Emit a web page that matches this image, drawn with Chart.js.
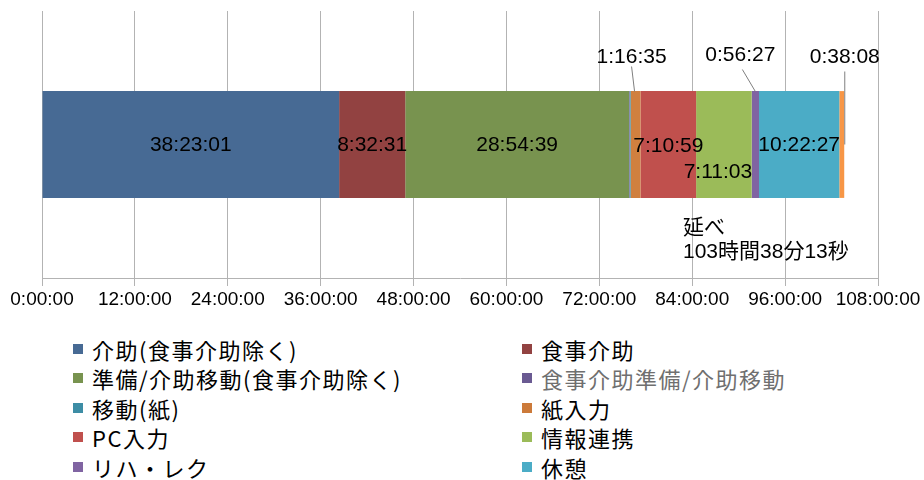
<!DOCTYPE html>
<html>
<head>
<meta charset="utf-8">
<script src="https://cdn.jsdelivr.net/npm/chart.js@4"></script>
<style>
  html, body { margin: 0; padding: 0; background: #fff; }
  #wrap { position: relative; width: 924px; height: 480px; }
  #chartBox { position: absolute; left: 0; top: 0; width: 924px; height: 330px; }
  #legend {
    position: absolute; left: 73px; top: 334px;
    display: grid; grid-template-columns: 449px 330px; grid-auto-rows: 29.5px;
    font-family: "Noto Sans CJK JP", sans-serif; font-size: 22px; letter-spacing: 1.5px;
    color: #000;
  }
  .item { display: flex; align-items: center; white-space: nowrap; }
  .sw { width: 10px; height: 10px; margin-right: 9px; flex: none; }
</style>
</head>
<body>
<div id="wrap">
  <div id="chartBox"><canvas id="chart"></canvas></div>
  <div id="legend"></div>
</div>
<script>
// series (one bar, stacked), values as h:mm:ss
const seriesNames = [
  '介助(食事介助除く)', '食事介助', '準備/介助移動(食事介助除く)', '食事介助準備/介助移動',
  '移動(紙)', '紙入力', 'PC入力', '情報連携', 'リハ・レク', '休憩', 'その他'
];
const seriesTimes = [
  '38:23:01', '8:32:31', '28:54:39', '0:04:10',
  '0:08:13', '1:16:35', '7:10:59', '7:11:03', '0:56:27', '10:22:27', '0:38:08'
];
const seriesColors = [
  '#476A94', '#924241', '#78934F', '#6A5A92',
  '#3D8DA5', '#D0803F', '#C0504D', '#9BBB59', '#8064A2', '#4BACC6', '#F79646'
];
const legendColors = [
  '#476A94', '#924241', '#78934F', '#6A5A92',
  '#3D8DA5', '#CC7A3A', '#C0504D', '#9BBB59', '#8064A2', '#4BACC6'
];
const xTickStepHours = 12;
const xMaxHours = 108;

const toSec = (s) => {
  const [h, m, sec] = s.split(':').map(Number);
  return h * 3600 + m * 60 + sec;
};
const fmt = (v) => {
  const h = Math.floor(v / 3600);
  const m = Math.floor((v % 3600) / 60);
  const s = Math.round(v % 60);
  return `${h}:${String(m).padStart(2, '0')}:${String(s).padStart(2, '0')}`;
};

// how each segment label is drawn (offsets from segment centre / bar centre)
const labelStyles = {
  0: { mode: 'center' },
  1: { mode: 'center' },
  2: { mode: 'center' },
  5: { mode: 'callout', dx: -4, dy: -88, line: [-4, -78, -1, -53] },
  6: { mode: 'center', dx: 0, dy: 1 },
  7: { mode: 'center', dx: -6, dy: 27 },
  8: { mode: 'callout', dx: -15, dy: -90, line: [-13, -75, 0, -53] },
  9: { mode: 'center' },
  10: { mode: 'callout', dx: 3, dy: -88, line: [3, -73, 3, 0] },
};

const totalSec = seriesTimes.reduce((a, t) => a + toSec(t), 0);
const totalText = (() => {
  const h = Math.floor(totalSec / 3600);
  const m = Math.floor((totalSec % 3600) / 60);
  const s = totalSec % 60;
  return `${h}時間${m}分${s}秒`;
})();

const labelPlugin = {
  id: 'segLabels',
  afterDatasetsDraw(chart) {
    const { ctx, chartArea } = chart;
    ctx.save();
    ctx.font = '21px "Liberation Sans", "Noto Sans CJK JP", sans-serif';
    ctx.fillStyle = '#000';
    ctx.textAlign = 'center';
    ctx.textBaseline = 'middle';
    chart.data.datasets.forEach((ds, i) => {
      const st = labelStyles[i];
      if (!st) return;
      const el = chart.getDatasetMeta(i).data[0];
      const cx = (el.x + el.base) / 2;
      const cy = el.y;
      const text = fmt(ds.data[0]);
      if (st.line) {
        const [x1, y1, x2, y2] = st.line;
        ctx.strokeStyle = '#7f7f7f';
        ctx.lineWidth = 1;
        ctx.beginPath();
        ctx.moveTo(cx + x1, cy + y1);
        ctx.lineTo(cx + x2, cy + y2);
        ctx.stroke();
      }
      ctx.fillText(text, cx + (st.dx || 0), cy + (st.dy || 0) + 1);
    });
    // total annotation
    ctx.textAlign = 'left';
    ctx.fillText('延べ', chartArea.right - 195, chartArea.bottom - 50);
    ctx.fillText(totalText, chartArea.right - 195, chartArea.bottom - 26);
    ctx.restore();
  },
};

const ctx = document.getElementById('chart').getContext('2d');
new Chart(ctx, {
  type: 'bar',
  data: {
    labels: [''],
    datasets: seriesNames.map((name, i) => ({
      label: name,
      data: [toSec(seriesTimes[i])],
      backgroundColor: seriesColors[i],
      borderWidth: 0,
      barPercentage: 0.4,
      categoryPercentage: 1,
    })),
  },
  options: {
    indexAxis: 'y',
    responsive: true,
    maintainAspectRatio: false,
    animation: false,
    layout: { padding: { left: 42, right: 46, top: 11, bottom: 0 } },
    plugins: {
      legend: { display: false },
      tooltip: { enabled: false },
    },
    scales: {
      x: {
        stacked: true,
        min: 0,
        max: xMaxHours * 3600,
        ticks: {
          stepSize: xTickStepHours * 3600,
          callback: (v) => fmt(v),
          color: '#000',
          font: { family: '"Liberation Sans", sans-serif', size: 19 },
          padding: 2,
          maxRotation: 0,
          autoSkip: false,
        },
        grid: { color: '#b3b3b3', lineWidth: 1, tickLength: 8 },
        border: { color: '#b3b3b3' },
        afterFit: (scale) => { scale.height = 52; },
      },
      y: {
        stacked: true,
        display: false,
      },
    },
  },
  plugins: [labelPlugin],
});

// two-column legend (reads row by row like the original)
const legendEl = document.getElementById('legend');
seriesNames.slice(0, legendColors.length).forEach((name, i) => {
  const item = document.createElement('div');
  item.className = 'item';
  const sw = document.createElement('span');
  sw.className = 'sw';
  sw.style.background = legendColors[i];
  const txt = document.createElement('span');
  txt.textContent = name;
  if (i === 3) txt.style.color = '#6f6f6f';
  item.appendChild(sw);
  item.appendChild(txt);
  legendEl.appendChild(item);
});
</script>
</body>
</html>
